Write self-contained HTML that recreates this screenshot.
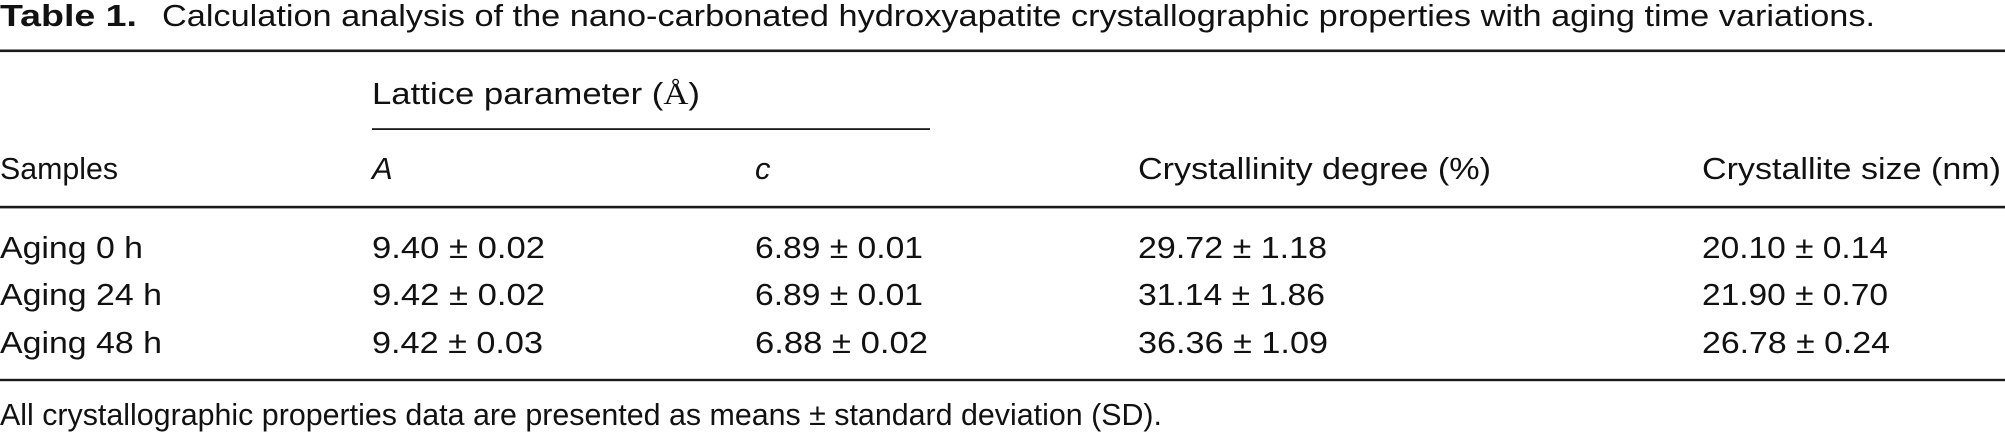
<!DOCTYPE html>
<html>
<head>
<meta charset="utf-8">
<style>
  html, body { margin: 0; padding: 0; background: #ffffff; }
  body { width: 2005px; height: 437px; overflow: hidden; }
  svg { display: block; }
  text { font-family: "Liberation Sans", "DejaVu Sans", sans-serif; font-size: 31px; fill: #111111; }
</style>
</head>
<body>
<svg width="2005" height="437" viewBox="0 0 2005 437" xmlns="http://www.w3.org/2000/svg">
  <rect x="0" y="0" width="2005" height="437" fill="#ffffff"/>

  <!-- Title -->
  <text x="0" y="26" font-weight="bold" textLength="137" lengthAdjust="spacingAndGlyphs">Table 1.</text>
  <text x="162" y="26" textLength="1713" lengthAdjust="spacingAndGlyphs">Calculation analysis of the nano-carbonated hydroxyapatite crystallographic properties with aging time variations.</text>

  <!-- Top rule -->
  <rect x="0" y="49.5" width="2005" height="2.6" fill="#1a1a1a"/>

  <!-- Spanning header -->
  <text x="372" y="104" textLength="328" lengthAdjust="spacingAndGlyphs">Lattice parameter (<tspan font-family="Liberation Serif, serif">Å</tspan>)</text>
  <rect x="372" y="128.2" width="558" height="1.8" fill="#1a1a1a"/>

  <!-- Column headers -->
  <text x="0" y="179" textLength="118" lengthAdjust="spacingAndGlyphs">Samples</text>
  <text x="372" y="179" font-style="italic">A</text>
  <text x="755" y="179" font-style="italic">c</text>
  <text x="1138" y="179" textLength="353" lengthAdjust="spacingAndGlyphs">Crystallinity degree (%)</text>
  <text x="1702" y="179" textLength="299" lengthAdjust="spacingAndGlyphs">Crystallite size (nm)</text>

  <!-- Header rule -->
  <rect x="0" y="205.8" width="2005" height="2.6" fill="#1a1a1a"/>

  <!-- Row 1 -->
  <text x="0" y="258" textLength="143" lengthAdjust="spacingAndGlyphs">Aging 0 h</text>
  <text x="372" y="258" textLength="173" lengthAdjust="spacingAndGlyphs">9.40 ± 0.02</text>
  <text x="755" y="258" textLength="168" lengthAdjust="spacingAndGlyphs">6.89 ± 0.01</text>
  <text x="1138" y="258" textLength="189" lengthAdjust="spacingAndGlyphs">29.72 ± 1.18</text>
  <text x="1702" y="258" textLength="186" lengthAdjust="spacingAndGlyphs">20.10 ± 0.14</text>

  <!-- Row 2 -->
  <text x="0" y="305" textLength="162" lengthAdjust="spacingAndGlyphs">Aging 24 h</text>
  <text x="372" y="305" textLength="173" lengthAdjust="spacingAndGlyphs">9.42 ± 0.02</text>
  <text x="755" y="305" textLength="168" lengthAdjust="spacingAndGlyphs">6.89 ± 0.01</text>
  <text x="1138" y="305" textLength="187" lengthAdjust="spacingAndGlyphs">31.14 ± 1.86</text>
  <text x="1702" y="305" textLength="186" lengthAdjust="spacingAndGlyphs">21.90 ± 0.70</text>

  <!-- Row 3 -->
  <text x="0" y="353" textLength="162" lengthAdjust="spacingAndGlyphs">Aging 48 h</text>
  <text x="372" y="353" textLength="171" lengthAdjust="spacingAndGlyphs">9.42 ± 0.03</text>
  <text x="755" y="353" textLength="173" lengthAdjust="spacingAndGlyphs">6.88 ± 0.02</text>
  <text x="1138" y="353" textLength="190" lengthAdjust="spacingAndGlyphs">36.36 ± 1.09</text>
  <text x="1702" y="353" textLength="188" lengthAdjust="spacingAndGlyphs">26.78 ± 0.24</text>

  <!-- Bottom rule -->
  <rect x="0" y="378.8" width="2005" height="2.4" fill="#1a1a1a"/>

  <!-- Footnote -->
  <text x="0" y="425" textLength="1162" lengthAdjust="spacingAndGlyphs">All crystallographic properties data are presented as means ± standard deviation (SD).</text>
</svg>
</body>
</html>
